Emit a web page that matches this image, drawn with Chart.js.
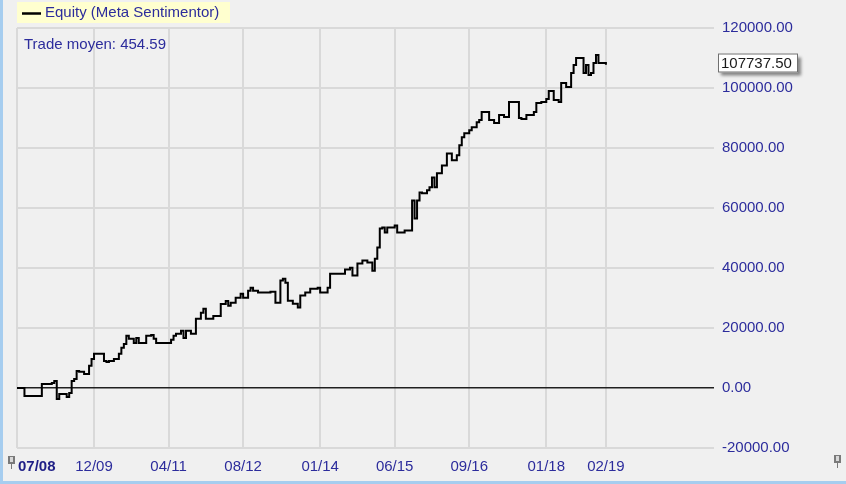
<!DOCTYPE html>
<html>
<head>
<meta charset="utf-8">
<script src="https://cdn.jsdelivr.net/npm/chart.js@4/dist/chart.umd.min.js"></script>
<style>
html,body{margin:0;padding:0;background:#f0f0f0;}
canvas{display:block;}
</style>
</head>
<body>
<canvas id="equityChart" width="846" height="484"></canvas>
<script>
// x axis: trade number, labelled with dates
const tickIdx = [0,31,61,91,122,152,182,213,237];
const tickLabels = ['07/08','12/09','04/11','08/12','01/14','06/15','09/16','01/18','02/19'];

// equity after each trade
const trades = [0,3,10,14,15,16,17,20,21,22,23,24,25,27,29,30,31,33,35,36,37,39,41,42,43,44,45,47,48,49,
  52,54,55,56,59,60,62,63,64,66,67,68,70,72,74,75,76,79,82,84,85,86,88,90,91,93,94,95,97,99,
  102,104,106,107,108,109,111,113,114,116,118,121,122,125,126,128,130,132,134,135,137,139,141,143,144,145,146,147,148,149,
  152,153,154,156,158,159,160,161,162,163,165,166,167,168,169,170,171,173,174,175,177,178,179,180,182,183,185,186,187,189,
  190,192,194,196,198,200,202,203,205,208,209,211,213,214,216,218,219,221,223,224,225,227,228,229,230,231,232,233,234,237];
const equity = [0,-2700,1300,1700,2300,-3700,-2000,-3000,-1700,2300,3000,5700,5400,4700,7400,9700,11400,11400,9000,8700,9000,9700,11400,13400,14700,17400,16400,15000,16700,15000,
  17400,17700,16400,15000,15000,15000,16100,17400,18100,19100,16700,19100,18100,23100,25100,26400,23100,24000,28000,29000,27400,28400,30100,31400,30100,32400,33400,32400,31800,31800,
  32100,28400,35800,36400,35100,29100,28100,26800,30800,31800,33100,33400,31800,33400,38100,38100,38100,39500,40100,37500,41500,42500,41800,39100,43100,46800,53200,53500,51800,53500,
  54200,51800,51800,52500,52500,62500,56500,62500,65200,64900,65900,66900,70200,66900,71600,71600,74200,78200,78200,75900,77600,80900,83600,84900,85900,86900,88600,89300,92000,92000,
  89300,88300,91000,90300,95300,95300,90000,89700,91000,92000,95000,95300,96300,99000,96000,95300,101700,100300,105000,107700,110000,110000,105000,107700,104300,105000,108300,111000,108300,107737.5];

const legendText = 'Equity (Meta Sentimentor)';
const statText = 'Trade moyen: 454.59';

const FONT = '"Liberation Sans", Arial, sans-serif';
const NAVY = '#2c2c9c';

const overlay = {
  id:'overlay',
  afterDraw(chart){
    const ctx = chart.ctx, xs = chart.scales.x, ys = chart.scales.y;
    ctx.save();
    // window edges
    ctx.fillStyle = '#a6cdef';
    ctx.fillRect(0,0,3,484);
    ctx.fillRect(0,481,846,3);

    // legend
    ctx.fillStyle = '#ffffcf';
    ctx.fillRect(17,2,213,21);
    ctx.strokeStyle = '#000'; ctx.lineWidth = 2.5;
    ctx.beginPath(); ctx.moveTo(22,13.5); ctx.lineTo(41,13.5); ctx.stroke();
    ctx.font = '15px '+FONT; ctx.textBaseline = 'middle'; ctx.textAlign = 'left';
    ctx.fillStyle = NAVY;
    ctx.fillText(legendText,45,13);
    ctx.fillText(statText,24,45);

    // x labels
    tickIdx.forEach((v,i)=>{
      const px = xs.getPixelForValue(v);
      if(i===0){
        ctx.font = 'bold 15px '+FONT; ctx.textAlign = 'left'; ctx.fillStyle = '#1e1e86';
        ctx.fillText(tickLabels[i],18,467);
      }else{
        ctx.font = '15px '+FONT; ctx.textAlign = 'center'; ctx.fillStyle = NAVY;
        ctx.fillText(tickLabels[i],px,467);
      }
    });

    // last value box
    const last = equity[equity.length-1];
    const py = Math.round(ys.getPixelForValue(last)) - 2;
    ctx.save();
    ctx.shadowColor = 'rgba(0,0,0,0.45)'; ctx.shadowOffsetX = 3; ctx.shadowOffsetY = 3; ctx.shadowBlur = 3;
    ctx.fillStyle = '#fff';
    ctx.fillRect(718,py-9.5,80,19);
    ctx.restore();
    ctx.strokeStyle = '#707070'; ctx.lineWidth = 1;
    ctx.strokeRect(718.5,py-9,79,18);
    ctx.font = '15px '+FONT; ctx.textAlign = 'left'; ctx.fillStyle = '#1a1a1a';
    ctx.fillText(last.toFixed(2),721,py+0.5);

    // pins
    [[8,456],[834,455]].forEach(([x,y])=>{
      ctx.fillStyle = '#7a7a7a';
      ctx.fillRect(x,y,7,8);
      ctx.fillStyle = '#d8d8d8';
      ctx.fillRect(x+2,y+1,3,5);
      ctx.fillStyle = '#7a7a7a';
      ctx.fillRect(x+3,y+8,1,5);
    });
    ctx.restore();
  }
};

new Chart(document.getElementById('equityChart'),{
  type:'line',
  data:{datasets:[{
    label:legendText,
    data:trades.map((t,i)=>({x:t,y:equity[i]})),
    borderColor:'#000',
    borderWidth:2,
    stepped:true,
    pointRadius:0,
    fill:false
  }]},
  options:{
    responsive:false,
    animation:false,
    layout:{padding:{left:17,top:28,right:0,bottom:0}},
    plugins:{legend:{display:false},tooltip:{enabled:false}},
    scales:{
      x:{
        type:'linear', min:0, max:280.5,
        afterBuildTicks:s=>{ s.ticks = tickIdx.map(v=>({value:v})); },
        afterFit:s=>{ s.height = 36; },
        ticks:{display:false},
        grid:{color:'#d9d9d9',lineWidth:2,drawTicks:false},
        border:{display:false}
      },
      y:{
        position:'right', min:-20000, max:120000,
        afterFit:s=>{ s.width = 132; },
        ticks:{stepSize:20000,padding:8,color:NAVY,font:{family:FONT,size:15},
          callback:v=>v.toFixed(2)},
        grid:{
          color:c=>c.tick && c.tick.value===0 ? '#202020' : '#d9d9d9',
          lineWidth:c=>c.tick && c.tick.value===0 ? 1.5 : 2,
          drawTicks:false
        },
        border:{display:false}
      }
    }
  },
  plugins:[overlay]
});
</script>
</body>
</html>
